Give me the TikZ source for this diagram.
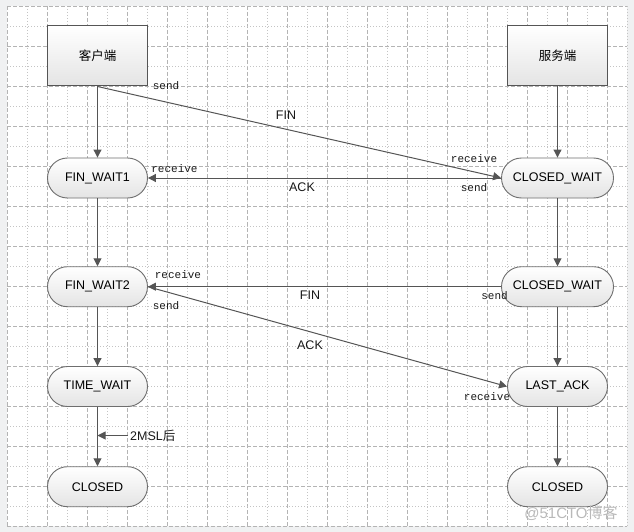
\documentclass[tikz,border=0pt]{standalone}
\usepackage{fontspec}
\setmainfont{Liberation Sans}
\setmonofont{Liberation Mono}
\newfontfamily\cjk{Noto Sans CJK SC}
\usetikzlibrary{arrows.meta}

\definecolor{frame}{HTML}{F0F1F2}
\definecolor{gridmajor}{HTML}{B4B4B4}
\definecolor{gridminor}{HTML}{C4C4C4}
\definecolor{edge}{HTML}{555555}
\definecolor{stateborder}{HTML}{6E6E6E}
\definecolor{shadebottom}{HTML}{E4E4E4}

\begin{document}
\begin{tikzpicture}[x=1pt,y=-1pt,
  hostbox/.style={draw=edge, line width=1pt, rectangle, minimum width=100pt,
    minimum height=60pt, top color=white, bottom color=shadebottom,
    font=\fontsize{12.5}{14}\selectfont},
  state/.style={draw=stateborder, line width=0.9pt, rectangle, rounded corners=20pt,
    minimum width=100pt, minimum height=40pt, top color=white, bottom color=shadebottom,
    font=\fontsize{12.5}{14}\selectfont},
  conn/.style={draw=edge, line width=1pt, -{Triangle[length=8pt,width=8pt]}},
  plainline/.style={draw=edge, line width=1pt},
  lbl/.style={font=\fontsize{12.5}{14}\selectfont, text=black!90, inner sep=1pt},
  ttlbl/.style={font=\ttfamily\fontsize{11}{12}\selectfont, text=black!90, inner sep=1pt},
  majorline/.style={draw=gridmajor, line width=0.8pt, dash pattern=on 4pt off 2pt},
  minorline/.style={draw=gridminor, line width=0.8pt, dash pattern=on 1pt off 2pt}]

% canvas and grid
\useasboundingbox (0,0) rectangle (634,532);
\fill[frame] (0,0) rectangle (634,532);
\fill[white] (7,6) rectangle (627,526);
\foreach \k in {0,...,31}{
  \pgfmathtruncatemacro{\odd}{mod(\k,2)}
  \ifnum\odd=0
    \draw[majorline] (7+20*\k,6) -- (7+20*\k,526);
  \else
    \draw[minorline] (7+20*\k,6) -- (7+20*\k,526);
  \fi
}
\foreach \k in {0,...,26}{
  \pgfmathtruncatemacro{\odd}{mod(\k,2)}
  \ifnum\odd=0
    \draw[majorline] (7,6+20*\k) -- (627,6+20*\k);
  \else
    \draw[minorline] (7,6+20*\k) -- (627,6+20*\k);
  \fi
}

% endpoints
\node[hostbox] (client) at (97.5,56) {\cjk 客户端};
\node[hostbox] (server) at (557.5,56) {\cjk 服务端};

% client states
\node[state] (fw1) at (97.5,178) {FIN\_WAIT1};
\node[state] (fw2) at (97.5,286.7) {FIN\_WAIT2};
\node[state] (tw)  at (97.5,386.5) {TIME\_WAIT};
\node[state] (cl)  at (97.5,486.7) {CLOSED};

% server states
\node[state, minimum width=112pt] (cw1) at (557.5,178) {CLOSED\_WAIT};
\node[state, minimum width=112pt] (cw2) at (557.5,286.7) {CLOSED\_WAIT};
\node[state] (la) at (557.5,386.5) {LAST\_ACK};
\node[state] (cr) at (557.5,486.7) {CLOSED};

% state transitions
\draw[conn] (client.south) -- (fw1.north);
\draw[conn] (fw1.south) -- (fw2.north);
\draw[conn] (fw2.south) -- (tw.north);
\draw[conn] (tw.south) -- (cl.north);
\draw[conn] (server.south) -- (cw1.north);
\draw[conn] (cw1.south) -- (cw2.north);
\draw[conn] (cw2.south) -- (la.north);
\draw[conn] (la.south) -- (cr.north);

% messages
\draw[conn] (client.south) -- (cw1.west);
\draw[conn] (cw1.west) -- (fw1.east);
\draw[conn] (cw2.west) -- (fw2.east);
\draw[conn] (fw2.east) -- (la.west);

% timeout note
\node[lbl, anchor=west, inner sep=2pt] (msl) at (128,435.5) {2MSL{\cjk 后}};
\coordinate (mslend) at (97.5,435.5);
\draw[conn] (msl.west) -- (mslend);

% message labels
\node[ttlbl] (l1) at (166,86) {send};
\node[lbl]   (l2) at (286,115) {FIN};
\node[ttlbl] (l3) at (474,159) {receive};
\node[ttlbl] (l4) at (174.5,169) {receive};
\node[lbl]   (l5) at (302,187.5) {ACK};
\node[ttlbl] (l6) at (474,187.5) {send};
\node[ttlbl] (l7) at (178,275) {receive};
\node[lbl]   (l8) at (310,295.5) {FIN};
\node[ttlbl] (l9) at (494.5,296) {send};
\node[ttlbl] (l10) at (166,305.5) {send};
\node[lbl]   (l11) at (310,345.5) {ACK};
\node[ttlbl] (l12) at (487,397) {receive};

% watermark
\node[font=\fontsize{15}{16}\selectfont, text=gray!55, inner sep=0pt] (wm) at (571,513) {@51CTO{\cjk 博客}};
\end{tikzpicture}
\end{document}
